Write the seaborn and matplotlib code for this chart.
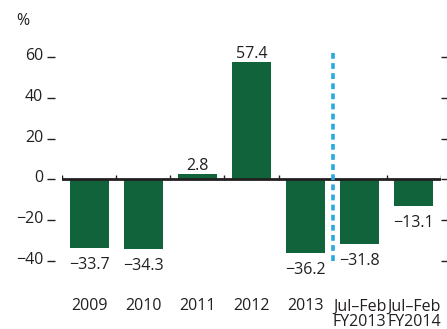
import matplotlib
matplotlib.use("Agg")
import matplotlib.pyplot as plt
import matplotlib.transforms as mtransforms
import seaborn as sns
import pandas as pd

categories = ["2009", "2010", "2011", "2012", "2013", "Jul\u2013Feb\nFY2013", "Jul\u2013Feb\nFY2014"]
values = [-33.7, -34.3, 2.8, 57.4, -36.2, -31.8, -13.1]
y_ticks = [-40, -20, 0, 20, 40, 60]
y_tick_labels = ["\u221240", "\u221220", "0", "20", "40", "60"]

sns.set_theme(style="white")
plt.rcParams["font.family"] = ["Open Sans", "DejaVu Sans"]

TEXT = "#231f20"
GREEN = "#10633a"
BLUE = "#2aa9e0"
FS = 11.5

df = pd.DataFrame({"period": categories, "change": values})

fig = plt.figure(figsize=(4.47, 3.29), dpi=100)
ax = fig.add_axes([62 / 447, (329 - 272) / 329, (441 - 62) / 447, 222 / 329])

sns.barplot(data=df, x="period", y="change", order=categories, color=GREEN,
            saturation=1, width=0.72, ax=ax, edgecolor="none")

ax.set_xlim(-0.5, len(categories) - 0.5)
ax.set_ylim(-45.4, 63.4)

# zero baseline with small category separators
ax.axhline(0, color=TEXT, lw=2, zorder=3)
ax.vlines([i - 0.5 for i in range(len(categories) + 1)], 0, 2.2,
          color=TEXT, lw=1, zorder=3)

# split between annual and fiscal year-to-date figures
ax.vlines(4.5, -40, 62, color=BLUE, lw=2.6, linestyles=(0, (1.6, 1.2)), zorder=4)

# value labels
for i, v in enumerate(values):
    txt = f"{v:.1f}".replace("-", "\u2212")
    if v < 0:
        ax.annotate(txt, (i, v), xytext=(0, -6.5), textcoords="offset points",
                    ha="center", va="top", fontsize=FS, color=TEXT)
    else:
        ax.annotate(txt, (i, v), xytext=(0, 0), textcoords="offset points",
                    ha="center", va="bottom", fontsize=FS, color=TEXT)

for s in ax.spines.values():
    s.set_visible(False)
ax.spines["left"].set_position(("outward", 5))

ax.set_yticks(y_ticks)
ax.set_yticklabels(y_tick_labels)
ax.tick_params(axis="y", left=True, right=True, direction="out", length=5.5,
               width=1, color=TEXT, labelsize=FS, labelcolor=TEXT, pad=3)
ax.tick_params(axis="x", bottom=False, labelsize=FS, labelcolor=TEXT, pad=13)
for lbl in ax.get_xticklabels():
    lbl.set_linespacing(0.98)
    lbl.set_va("top")

shift = mtransforms.ScaledTranslation(0, 3 / 100, fig.dpi_scale_trans)
for lbl in ax.get_yticklabels():
    lbl.set_transform(lbl.get_transform() + shift)

ax.set_xlabel("")
ax.set_ylabel("")
ax.grid(False)

fig.text(16 / 447, 1 - 21 / 329, "%", fontsize=FS, color=TEXT,
         va="center", ha="left")

fig.savefig("out.png", dpi=100)
